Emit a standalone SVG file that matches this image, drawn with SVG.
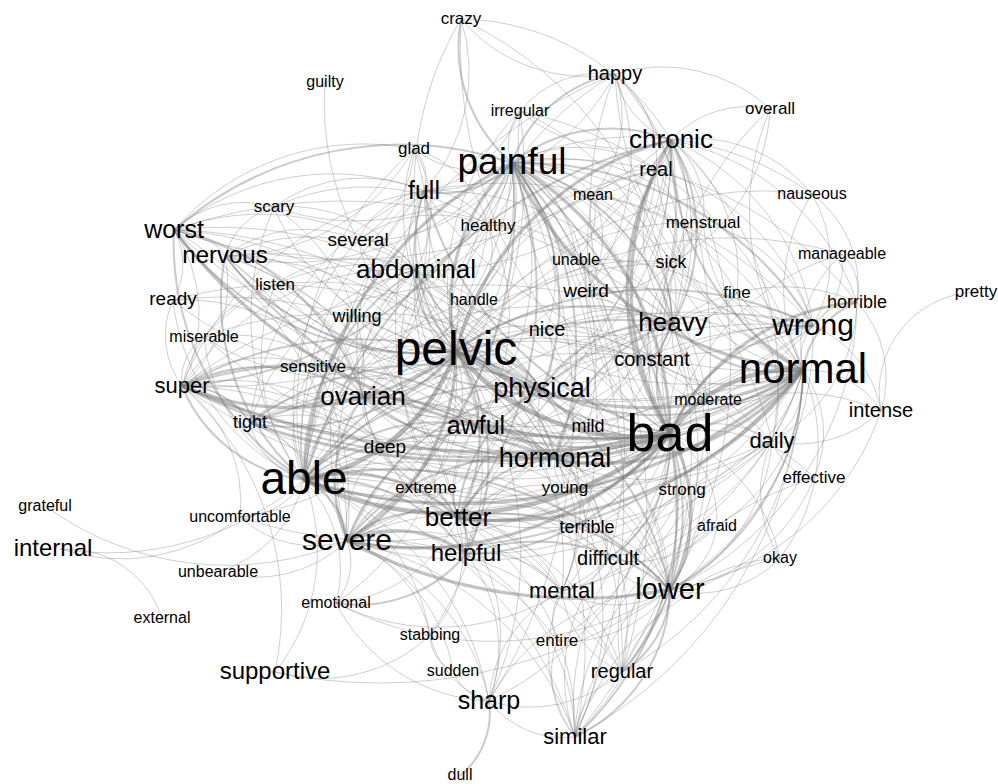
<svg xmlns="http://www.w3.org/2000/svg" width="998" height="784" viewBox="0 0 998 784">
<style>
#connectors path{fill:none;stroke:#7a7a7a;stroke-opacity:.36;stroke-width:1}
#connectors .w2 path{stroke-width:2;stroke-opacity:.4}
#connectors .w3 path{stroke-width:3.2;stroke-opacity:.45}
#connectors .w4 path{stroke-width:4.5;stroke-opacity:.5}
text{font-family:"Liberation Sans",Arial,Helvetica,sans-serif;fill:#000;text-anchor:middle}
</style>
<rect width="998" height="784" fill="#fff"/>
<g id="connectors">
<g class="w1">
<path d="M670 434A285 285 0 0 1 385 447"/><path d="M670 434A250 250 0 0 1 426 488"/><path d="M670 434A118 118 0 0 1 565 488"/><path d="M670 434A57 57 0 0 1 682 490"/><path d="M670 434A103 103 0 0 1 717 526"/><path d="M670 434A125 125 0 0 1 587 528"/><path d="M670 434A102 102 0 0 1 772 441"/><path d="M670 434A49 49 0 0 1 708 402"/><path d="M670 434A82 82 0 0 1 588 427"/><path d="M670 434A76 76 0 0 1 652 360"/><path d="M670 434A171 171 0 0 1 671 263"/><path d="M670 434A363 363 0 0 1 313 367"/><path d="M670 434A161 161 0 0 1 547 330"/><path d="M670 434A166 166 0 0 1 586 291"/><path d="M670 434A156 156 0 0 1 737 293"/><path d="M670 434A150 150 0 0 1 814 478"/><path d="M670 434A166 166 0 0 1 780 558"/><path d="M670 434A211 211 0 0 1 881 411"/><path d="M670 434A322 322 0 0 1 489 701"/><path d="M670 434A236 236 0 0 1 557 641"/><path d="M670 434A465 465 0 0 1 461 19"/><path d="M670 434A364 364 0 0 1 615 74"/><path d="M670 434A251 251 0 0 1 593 195"/><path d="M670 434A214 214 0 0 1 703 223"/><path d="M670 434A438 438 0 0 1 240 517"/><path d="M670 434A476 476 0 0 1 204 337"/><path d="M670 434A334 334 0 0 1 357 317"/><path d="M670 434A249 249 0 0 1 842 254"/><path d="M670 434A347 347 0 0 1 520 111"/><path d="M670 434A340 340 0 0 1 770 109"/><path d="M670 434A190 190 0 0 1 562 591"/>
<path d="M803 370A432 432 0 0 1 575 737"/><path d="M803 370A441 441 0 0 1 363 397"/><path d="M803 370A87 87 0 0 1 881 411"/><path d="M803 370A77 77 0 0 1 772 441"/><path d="M803 370A108 108 0 0 1 814 478"/><path d="M803 370A189 189 0 0 1 780 558"/><path d="M803 370A122 122 0 0 1 842 254"/><path d="M803 370A176 176 0 0 1 812 194"/><path d="M803 370A102 102 0 0 1 737 293"/><path d="M803 370A151 151 0 0 1 652 360"/><path d="M803 370A101 101 0 0 1 708 402"/><path d="M803 370A263 263 0 0 1 770 109"/><path d="M803 370A350 350 0 0 1 615 74"/><path d="M803 370A178 178 0 0 1 703 223"/><path d="M803 370A170 170 0 0 1 671 263"/><path d="M803 370A400 400 0 0 1 416 270"/><path d="M803 370A643 643 0 0 1 174 230"/><path d="M803 370A589 589 0 0 1 225 256"/><path d="M803 370A352 352 0 0 1 622 672"/><path d="M803 370A272 272 0 0 1 608 559"/><path d="M803 370A327 327 0 0 1 562 591"/><path d="M803 370A178 178 0 0 1 717 526"/><path d="M803 370A170 170 0 0 1 682 490"/><path d="M803 370A266 266 0 0 1 565 488"/><path d="M803 370A556 556 0 0 1 250 423"/><path d="M803 370A385 385 0 0 1 466 554"/><path d="M803 370A419 419 0 0 1 424 191"/><path d="M803 370A248 248 0 0 1 656 170"/><path d="M803 370A45 45 0 0 1 813 326"/><path d="M976 292A100 100 0 0 0 881 411"/>
<path d="M456 351A79 79 0 0 1 476 427"/><path d="M456 351A119 119 0 0 1 385 447"/><path d="M456 351A140 140 0 0 1 426 488"/><path d="M456 351A144 144 0 0 1 313 367"/><path d="M456 351A105 105 0 0 1 357 317"/><path d="M456 351A54 54 0 0 1 474 300"/><path d="M456 351A129 129 0 0 1 488 226"/><path d="M456 351A148 148 0 0 1 358 240"/><path d="M456 351A206 206 0 0 1 414 149"/><path d="M456 351A332 332 0 0 1 461 19"/><path d="M456 351A300 300 0 0 1 325 82"/><path d="M456 351A252 252 0 0 1 204 337"/><path d="M456 351A193 193 0 0 1 275 285"/><path d="M456 351A289 289 0 0 1 173 300"/><path d="M456 351A232 232 0 0 1 274 207"/><path d="M456 351A319 319 0 0 1 615 74"/><path d="M456 351A248 248 0 0 1 520 111"/><path d="M456 351A270 270 0 0 1 656 170"/><path d="M456 351A208 208 0 0 1 593 195"/><path d="M456 351A232 232 0 0 1 671 263"/><path d="M456 351A196 196 0 0 1 652 360"/><path d="M456 351A93 93 0 0 1 547 330"/><path d="M456 351A329 329 0 0 1 772 441"/><path d="M456 351A258 258 0 0 1 608 559"/><path d="M456 351A262 262 0 0 1 562 591"/><path d="M456 351A404 404 0 0 1 575 737"/><path d="M456 351A352 352 0 0 1 489 701"/><path d="M456 351A361 361 0 0 1 622 672"/><path d="M456 351A285 285 0 0 1 430 635"/><path d="M456 351A280 280 0 0 1 336 603"/><path d="M456 351A175 175 0 0 1 565 488"/><path d="M456 351A220 220 0 0 1 587 528"/><path d="M456 351A272 272 0 0 1 240 517"/><path d="M456 351A274 274 0 0 1 703 223"/><path d="M456 351A260 260 0 0 1 708 402"/><path d="M456 351A390 390 0 0 1 842 254"/><path d="M456 351A376 376 0 0 1 812 194"/>
<path d="M304 480A102 102 0 0 1 363 397"/><path d="M304 480A313 313 0 0 1 424 191"/><path d="M304 480A88 88 0 0 1 385 447"/><path d="M304 480A122 122 0 0 1 426 488"/><path d="M304 480A531 531 0 0 1 813 326"/><path d="M304 480A78 78 0 0 1 250 423"/><path d="M304 480A113 113 0 0 1 313 367"/><path d="M304 480A171 171 0 0 1 357 317"/><path d="M304 480A174 174 0 0 1 204 337"/><path d="M304 480A223 223 0 0 1 173 300"/><path d="M304 480A197 197 0 0 1 275 285"/><path d="M304 480A74 74 0 0 1 240 517"/><path d="M304 480A300 300 0 0 1 60 549"/><path d="M304 480A126 126 0 0 1 218 572"/><path d="M304 480A127 127 0 0 1 336 603"/><path d="M304 480A194 194 0 0 1 275 672"/><path d="M304 480A200 200 0 0 1 430 635"/><path d="M304 480A288 288 0 0 1 489 701"/><path d="M304 480A373 373 0 0 1 575 737"/><path d="M304 480A371 371 0 0 1 622 672"/><path d="M304 480A281 281 0 0 1 562 591"/><path d="M304 480A314 314 0 0 1 608 559"/><path d="M304 480A261 261 0 0 1 565 488"/><path d="M304 480A287 287 0 0 1 587 528"/><path d="M304 480A349 349 0 0 1 414 149"/><path d="M304 480A246 246 0 0 1 358 240"/><path d="M304 480A314 314 0 0 1 488 226"/><path d="M304 480A248 248 0 0 1 474 300"/><path d="M304 480A470 470 0 0 1 656 170"/><path d="M304 480A426 426 0 0 1 671 263"/><path d="M304 480A368 368 0 0 1 652 360"/><path d="M304 480A275 275 0 0 1 274 207"/><path d="M304 480A500 500 0 0 1 615 74"/>
<path d="M512 163A53 53 0 0 1 520 111"/><path d="M512 163A99 99 0 0 1 414 149"/><path d="M512 163A302 302 0 0 1 225 256"/><path d="M512 163A144 144 0 0 1 416 270"/><path d="M512 163A266 266 0 0 1 476 427"/><path d="M512 163A145 145 0 0 1 656 170"/><path d="M512 163A87 87 0 0 1 593 195"/><path d="M512 163A68 68 0 0 1 488 226"/><path d="M512 163A116 116 0 0 1 576 260"/><path d="M512 163A148 148 0 0 1 586 291"/><path d="M512 163A188 188 0 0 1 671 263"/><path d="M512 163A200 200 0 0 1 703 223"/><path d="M512 163A277 277 0 0 1 363 397"/><path d="M512 163A242 242 0 0 1 652 360"/><path d="M512 163A171 171 0 0 1 547 330"/><path d="M512 163A275 275 0 0 1 588 427"/><path d="M512 163A311 311 0 0 1 385 447"/><path d="M512 163A369 369 0 0 1 250 423"/><path d="M512 163A381 381 0 0 1 772 441"/><path d="M512 163A407 407 0 0 1 608 559"/><path d="M512 163A431 431 0 0 1 562 591"/><path d="M512 163A577 577 0 0 1 575 737"/><path d="M512 163A521 521 0 0 1 622 672"/><path d="M512 163A538 538 0 0 1 489 701"/><path d="M512 163A242 242 0 0 1 274 207"/><path d="M512 163A172 172 0 0 1 358 240"/><path d="M512 163A142 142 0 0 1 474 300"/><path d="M512 163A302 302 0 0 1 812 194"/><path d="M512 163A259 259 0 0 1 737 293"/><path d="M512 163A372 372 0 0 1 857 302"/><path d="M512 163A308 308 0 0 1 708 402"/>
<path d="M671 140A87 87 0 0 1 615 74"/><path d="M671 140A40 40 0 0 1 656 170"/><path d="M671 140A233 233 0 0 1 813 326"/><path d="M671 140A123 123 0 0 1 671 263"/><path d="M671 140A89 89 0 0 1 703 223"/><path d="M671 140A95 95 0 0 1 593 195"/><path d="M671 140A515 515 0 0 1 347 541"/><path d="M671 140A434 434 0 0 1 458 518"/><path d="M671 140A339 339 0 0 1 555 459"/><path d="M671 140A280 280 0 0 1 542 389"/><path d="M671 140A547 547 0 0 1 182 386"/><path d="M671 140A504 504 0 0 1 174 230"/><path d="M671 140A450 450 0 0 1 670 590"/><path d="M671 140A286 286 0 0 1 416 270"/><path d="M671 140A401 401 0 0 1 363 397"/><path d="M671 140A347 347 0 0 1 476 427"/><path d="M671 140A247 247 0 0 1 857 302"/><path d="M671 140A318 318 0 0 1 772 441"/><path d="M671 140A154 154 0 0 1 520 111"/><path d="M671 140A151 151 0 0 1 812 194"/><path d="M671 140A104 104 0 0 1 770 109"/><path d="M671 140A221 221 0 0 1 652 360"/><path d="M671 140A166 166 0 0 1 737 293"/><path d="M671 140A605 605 0 0 1 575 737"/>
<path d="M174 230A58 58 0 0 1 225 256"/><path d="M174 230A102 102 0 0 1 274 207"/><path d="M174 230A156 156 0 0 1 182 386"/><path d="M174 230A355 355 0 0 1 347 541"/><path d="M174 230A400 400 0 0 1 542 389"/><path d="M174 230A244 244 0 0 1 416 270"/><path d="M174 230A252 252 0 0 1 424 191"/><path d="M174 230A252 252 0 0 1 414 149"/><path d="M174 230A403 403 0 0 1 458 518"/><path d="M174 230A444 444 0 0 1 555 459"/><path d="M174 230A507 507 0 0 1 673 323"/><path d="M174 230A360 360 0 0 1 476 427"/><path d="M174 230A70 70 0 0 1 173 300"/>
<path d="M225 256A70 70 0 0 1 274 207"/><path d="M225 256A134 134 0 0 1 358 240"/><path d="M225 256A192 192 0 0 1 416 270"/><path d="M225 256A197 197 0 0 1 363 397"/><path d="M225 256A137 137 0 0 1 182 386"/><path d="M225 256A310 310 0 0 1 347 541"/><path d="M225 256A350 350 0 0 1 458 518"/><path d="M225 256A387 387 0 0 1 555 459"/><path d="M225 256A344 344 0 0 1 542 389"/><path d="M225 256A145 145 0 0 1 357 317"/>
<path d="M182 386A226 226 0 0 1 347 541"/><path d="M182 386A305 305 0 0 1 458 518"/><path d="M182 386A297 297 0 0 1 476 427"/><path d="M182 386A212 212 0 0 1 385 447"/><path d="M182 386A52 52 0 0 1 204 337"/><path d="M182 386A133 133 0 0 1 313 367"/><path d="M182 386A329 329 0 0 1 466 554"/><path d="M182 386A495 495 0 0 1 673 323"/><path d="M182 386A300 300 0 0 1 275 672"/><path d="M182 386A261 261 0 0 1 416 270"/><path d="M182 386A311 311 0 0 1 424 191"/><path d="M182 386A86 86 0 0 1 173 300"/><path d="M182 386A137 137 0 0 1 275 285"/><path d="M182 386A143 143 0 0 1 240 517"/>
<path d="M250 423A116 116 0 0 1 363 397"/><path d="M250 423A226 226 0 0 1 476 427"/><path d="M250 423A228 228 0 0 1 458 518"/><path d="M250 423A153 153 0 0 1 347 541"/><path d="M250 423A226 226 0 0 1 416 270"/><path d="M250 423A290 290 0 0 1 424 191"/><path d="M250 423A137 137 0 0 1 385 447"/><path d="M250 423A445 445 0 0 1 673 323"/>
<path d="M347 541A280 280 0 0 1 416 270"/><path d="M347 541A172 172 0 0 1 476 427"/><path d="M347 541A358 358 0 0 1 424 191"/><path d="M347 541A221 221 0 0 1 562 591"/><path d="M347 541A262 262 0 0 1 608 559"/><path d="M347 541A214 214 0 0 1 489 701"/><path d="M347 541A125 125 0 0 1 430 635"/><path d="M347 541A167 167 0 0 1 453 671"/><path d="M347 541A301 301 0 0 1 575 737"/><path d="M347 541A305 305 0 0 1 622 672"/><path d="M347 541A63 63 0 0 1 336 603"/><path d="M347 541A309 309 0 0 1 45 506"/><path d="M347 541A133 133 0 0 1 218 572"/><path d="M347 541A392 392 0 0 1 673 323"/><path d="M347 541A512 512 0 0 1 813 326"/><path d="M347 541A100 100 0 0 1 385 447"/><path d="M347 541A101 101 0 0 1 426 488"/><path d="M347 541A241 241 0 0 1 587 528"/><path d="M347 541A233 233 0 0 1 557 641"/><path d="M347 541A110 110 0 0 1 240 517"/>
<path d="M458 518A93 93 0 0 1 476 427"/><path d="M458 518A153 153 0 0 1 363 397"/><path d="M458 518A251 251 0 0 1 416 270"/><path d="M458 518A291 291 0 0 1 673 323"/><path d="M458 518A404 404 0 0 1 813 326"/><path d="M458 518A128 128 0 0 1 562 591"/><path d="M458 518A156 156 0 0 1 608 559"/><path d="M458 518A149 149 0 0 1 336 603"/><path d="M458 518A249 249 0 0 1 575 737"/><path d="M458 518A226 226 0 0 1 622 672"/><path d="M458 518A186 186 0 0 1 489 701"/><path d="M458 518A120 120 0 0 1 430 635"/><path d="M458 518A42 42 0 0 1 426 488"/><path d="M458 518A118 118 0 0 1 565 488"/><path d="M458 518A131 131 0 0 1 587 528"/><path d="M458 518A100 100 0 0 1 385 447"/><path d="M458 518A329 329 0 0 1 424 191"/>
<path d="M466 554A131 131 0 0 1 555 459"/><path d="M466 554A182 182 0 0 1 542 389"/><path d="M466 554A104 104 0 0 1 562 591"/><path d="M466 554A127 127 0 0 1 476 427"/><path d="M466 554A311 311 0 0 1 673 323"/><path d="M466 554A213 213 0 0 1 575 737"/><path d="M466 554A150 150 0 0 1 489 701"/>
<path d="M670 590A500 500 0 0 1 275 672"/><path d="M670 590A335 335 0 0 1 336 603"/>
<path d="M555 459A71 71 0 0 1 542 389"/><path d="M555 459A289 289 0 0 1 813 326"/><path d="M555 459A86 86 0 0 1 476 427"/><path d="M555 459A174 174 0 0 1 670 590"/><path d="M555 459A199 199 0 0 1 363 397"/><path d="M555 459A235 235 0 0 1 416 270"/><path d="M555 459A279 279 0 0 1 575 737"/><path d="M555 459A223 223 0 0 1 622 672"/><path d="M555 459A132 132 0 0 1 562 591"/><path d="M555 459A113 113 0 0 1 608 559"/>
<path d="M542 389A277 277 0 0 1 813 326"/><path d="M542 389A77 77 0 0 1 476 427"/><path d="M542 389A179 179 0 0 1 363 397"/><path d="M542 389A173 173 0 0 1 416 270"/><path d="M542 389A238 238 0 0 1 670 590"/><path d="M542 389A202 202 0 0 1 562 591"/><path d="M542 389A231 231 0 0 1 424 191"/><path d="M542 389A114 114 0 0 1 652 360"/>
<path d="M673 323A139 139 0 0 1 813 326"/><path d="M673 323A267 267 0 0 1 670 590"/><path d="M673 323A154 154 0 0 1 656 170"/><path d="M673 323A60 60 0 0 1 671 263"/><path d="M673 323A103 103 0 0 1 703 223"/><path d="M673 323A43 43 0 0 1 652 360"/><path d="M673 323A260 260 0 0 1 416 270"/><path d="M673 323A320 320 0 0 1 363 397"/><path d="M673 323A222 222 0 0 1 476 427"/><path d="M673 323A420 420 0 0 1 575 737"/><path d="M673 323A352 352 0 0 1 622 672"/><path d="M673 323A186 186 0 0 1 857 302"/>
<path d="M813 326A52 52 0 0 1 857 302"/><path d="M813 326A300 300 0 0 1 670 590"/><path d="M813 326A345 345 0 0 1 476 427"/><path d="M813 326A85 85 0 0 1 737 293"/><path d="M813 326A158 158 0 0 1 671 263"/><path d="M813 326A459 459 0 0 1 363 397"/><path d="M813 326A400 400 0 0 1 416 270"/><path d="M813 326A638 638 0 0 1 182 386"/><path d="M813 326A113 113 0 0 1 881 411"/>
<path d="M476 427A117 117 0 0 1 363 397"/><path d="M476 427A170 170 0 0 1 416 270"/><path d="M476 427A248 248 0 0 1 670 590"/><path d="M476 427A245 245 0 0 1 424 191"/>
<path d="M363 397A133 133 0 0 1 416 270"/><path d="M363 397A357 357 0 0 1 670 590"/><path d="M363 397A211 211 0 0 1 424 191"/><path d="M416 270A79 79 0 0 1 424 191"/><path d="M416 270A398 398 0 0 1 670 590"/>
<path d="M670 590A108 108 0 0 1 562 591"/><path d="M670 590A70 70 0 0 1 608 559"/><path d="M670 590A127 127 0 0 1 557 641"/>
<path d="M575 737A79 79 0 0 1 622 672"/><path d="M575 737A95 95 0 0 1 489 701"/><path d="M575 737A147 147 0 0 1 562 591"/><path d="M575 737A98 98 0 0 1 557 641"/><path d="M575 737A180 180 0 0 1 608 559"/><path d="M575 737A269 269 0 0 1 682 490"/><path d="M575 737A240 240 0 0 1 717 526"/><path d="M575 737A272 272 0 0 1 780 558"/><path d="M575 737A352 352 0 0 1 814 478"/>
<path d="M622 672A100 100 0 0 1 562 591"/><path d="M622 672A138 138 0 0 1 489 701"/><path d="M622 672A193 193 0 0 1 682 490"/><path d="M622 672A180 180 0 0 1 780 558"/><path d="M622 672A275 275 0 0 1 772 441"/>
<path d="M489 701A47 47 0 0 1 453 671"/><path d="M489 701A90 90 0 0 1 430 635"/><path d="M489 701A130 130 0 0 1 562 591"/><path d="M489 701A210 210 0 0 1 670 590"/><path d="M489 701A180 180 0 0 1 336 603"/>
<path d="M453 671A40 40 0 0 1 430 635"/><path d="M430 635A159 159 0 0 1 275 672"/><path d="M60 549A100 100 0 0 1 162 618"/><path d="M60 549A190 190 0 0 0 240 517"/>
<path d="M414 149A42 42 0 0 1 424 191"/><path d="M414 149A121 121 0 0 1 416 270"/><path d="M414 149A108 108 0 0 1 358 240"/><path d="M414 149A105 105 0 0 1 488 226"/><path d="M414 149A250 250 0 0 1 363 397"/><path d="M414 149A217 217 0 0 1 225 256"/>
<path d="M274 207A150 150 0 0 1 424 191"/><path d="M274 207A160 160 0 0 1 416 270"/><path d="M274 207A215 215 0 0 1 488 226"/><path d="M274 207A200 200 0 0 1 363 397"/>
<path d="M358 240A86 86 0 0 1 424 191"/><path d="M358 240A66 66 0 0 1 416 270"/><path d="M358 240A131 131 0 0 1 488 226"/>
<path d="M424 191A72 72 0 0 1 488 226"/><path d="M424 191A215 215 0 0 1 363 397"/><path d="M424 191A276 276 0 0 1 673 323"/><path d="M424 191A406 406 0 0 1 813 326"/>
<path d="M488 226A75 75 0 0 1 474 300"/><path d="M488 226A95 95 0 0 1 576 260"/><path d="M488 226A215 215 0 0 1 363 397"/><path d="M488 226A200 200 0 0 1 476 427"/>
<path d="M520 111A104 104 0 0 1 615 74"/><path d="M520 111A125 125 0 0 1 424 191"/><path d="M520 111A254 254 0 0 1 673 323"/><path d="M520 111A377 377 0 0 1 803 370"/><path d="M520 111A467 467 0 0 1 347 541"/>
<path d="M615 74A106 106 0 0 1 656 170"/><path d="M615 74A257 257 0 0 1 673 323"/><path d="M615 74A198 198 0 0 1 671 263"/><path d="M615 74A164 164 0 0 1 461 19"/><path d="M615 74A159 159 0 0 1 770 109"/><path d="M615 74A220 220 0 0 1 424 191"/><path d="M615 74A123 123 0 0 1 593 195"/><path d="M615 74A220 220 0 0 1 586 291"/>
<path d="M461 19A178 178 0 0 1 424 191"/><path d="M461 19A250 250 0 0 1 671 140"/><path d="M461 19A370 370 0 0 1 673 323"/><path d="M770 109A183 183 0 0 1 671 263"/>
<path d="M593 195A70 70 0 0 1 656 170"/><path d="M593 195A150 150 0 0 1 673 323"/><path d="M593 195A68 68 0 0 1 576 260"/><path d="M593 195A96 96 0 0 1 586 291"/><path d="M593 195A277 277 0 0 1 803 370"/>
<path d="M703 223A50 50 0 0 1 671 263"/><path d="M703 223A148 148 0 0 1 813 326"/><path d="M656 170A95 95 0 0 1 671 263"/><path d="M656 170A230 230 0 0 1 813 326"/><path d="M656 170A150 150 0 0 1 586 291"/>
<path d="M576 260A31 31 0 0 1 586 291"/><path d="M576 260A116 116 0 0 1 673 323"/><path d="M576 260A250 250 0 0 1 803 370"/><path d="M671 263A90 90 0 0 1 586 291"/><path d="M671 263A100 100 0 0 1 652 360"/>
<path d="M586 291A97 97 0 0 1 673 323"/><path d="M586 291A230 230 0 0 1 803 370"/><path d="M586 291A95 95 0 0 1 652 360"/>
<path d="M547 330A260 260 0 0 1 803 370"/><path d="M547 330A126 126 0 0 1 673 323"/><path d="M547 330A60 60 0 0 1 542 389"/><path d="M547 330A110 110 0 0 1 652 360"/>
<path d="M737 293A70 70 0 0 1 673 323"/><path d="M737 293A150 150 0 0 1 772 441"/><path d="M842 254A50 50 0 0 1 857 302"/><path d="M842 254A80 80 0 0 1 813 326"/><path d="M812 194A113 113 0 0 1 857 302"/><path d="M812 194A132 132 0 0 1 813 326"/>
<path d="M857 302A112 112 0 0 1 881 411"/><path d="M857 302A160 160 0 0 1 772 441"/><path d="M857 302A320 320 0 0 1 670 590"/><path d="M881 411A120 120 0 0 1 772 441"/><path d="M881 411A270 270 0 0 1 670 590"/>
<path d="M814 478A57 57 0 0 1 772 441"/><path d="M814 478A180 180 0 0 1 670 590"/><path d="M780 558A120 120 0 0 1 772 441"/><path d="M780 558A115 115 0 0 1 670 590"/><path d="M717 526A85 85 0 0 1 670 590"/><path d="M717 526A115 115 0 0 1 608 559"/><path d="M682 490A100 100 0 0 1 670 590"/><path d="M682 490A160 160 0 0 1 562 591"/>
<path d="M772 441A180 180 0 0 1 670 590"/><path d="M772 441A160 160 0 0 1 673 323"/><path d="M772 441A220 220 0 0 1 555 459"/><path d="M772 441A590 590 0 0 1 182 386"/><path d="M772 441A350 350 0 0 1 458 518"/><path d="M772 441A430 430 0 0 1 347 541"/>
<path d="M708 402A80 80 0 0 1 673 323"/><path d="M708 402A70 70 0 0 1 652 360"/><path d="M708 402A410 410 0 0 1 304 480"/><path d="M652 360A140 140 0 0 1 555 459"/>
<path d="M588 427A170 170 0 0 1 456 351"/><path d="M588 427A290 290 0 0 1 304 480"/><path d="M588 427A70 70 0 0 1 542 389"/><path d="M565 488A30 30 0 0 1 555 459"/>
<path d="M587 528A70 70 0 0 1 562 591"/><path d="M587 528A110 110 0 0 1 670 590"/><path d="M608 559A60 60 0 0 1 562 591"/><path d="M557 641A50 50 0 0 1 562 591"/><path d="M562 591A228 228 0 0 1 336 603"/>
<path d="M385 447A55 55 0 0 1 363 397"/><path d="M385 447A95 95 0 0 1 476 427"/><path d="M385 447A170 170 0 0 1 542 389"/><path d="M385 447A170 170 0 0 1 555 459"/><path d="M426 488A140 140 0 0 1 555 459"/><path d="M426 488A110 110 0 0 1 363 397"/>
<path d="M313 367A60 60 0 0 1 363 397"/><path d="M313 367A230 230 0 0 1 542 389"/><path d="M313 367A135 135 0 0 1 416 270"/><path d="M357 317A80 80 0 0 1 416 270"/><path d="M357 317A190 190 0 0 1 542 389"/>
<path d="M275 285A143 143 0 0 1 416 270"/><path d="M275 285A145 145 0 0 1 363 397"/><path d="M275 285A290 290 0 0 1 542 389"/><path d="M204 337A170 170 0 0 1 363 397"/><path d="M204 337A345 345 0 0 1 542 389"/><path d="M204 337A220 220 0 0 1 416 270"/>
<path d="M173 300A385 385 0 0 1 542 389"/><path d="M173 300A420 420 0 0 1 555 459"/><path d="M173 300A215 215 0 0 1 363 397"/>
</g>
<g class="w2">
<path d="M670 434A118 118 0 0 1 555 459"/><path d="M670 434A136 136 0 0 1 542 389"/><path d="M670 434A111 111 0 0 1 673 323"/><path d="M670 434A178 178 0 0 1 813 326"/><path d="M670 434A318 318 0 0 1 575 737"/><path d="M670 434A243 243 0 0 1 622 672"/><path d="M670 434A140 140 0 0 1 608 559"/><path d="M670 434A309 309 0 0 1 363 397"/><path d="M670 434A302 302 0 0 1 416 270"/><path d="M670 434A194 194 0 0 1 476 427"/><path d="M670 434A238 238 0 0 1 466 554"/><path d="M670 434A346 346 0 0 1 424 191"/><path d="M670 434A480 480 0 0 1 225 256"/>
<path d="M803 370A265 265 0 0 1 671 140"/><path d="M803 370A650 650 0 0 1 182 386"/><path d="M803 370A262 262 0 0 1 542 389"/><path d="M803 370A138 138 0 0 1 673 323"/><path d="M803 370A87 87 0 0 1 857 302"/><path d="M803 370A257 257 0 0 1 670 590"/><path d="M803 370A487 487 0 0 1 347 541"/><path d="M803 370A332 332 0 0 1 476 427"/>
<path d="M456 351A306 306 0 0 1 174 230"/><path d="M456 351A250 250 0 0 1 225 256"/><path d="M456 351A218 218 0 0 1 250 423"/><path d="M456 351A167 167 0 0 1 458 518"/><path d="M456 351A94 94 0 0 1 542 389"/><path d="M456 351A146 146 0 0 1 555 459"/><path d="M456 351A104 104 0 0 1 363 397"/><path d="M456 351A90 90 0 0 1 416 270"/><path d="M456 351A163 163 0 0 1 424 191"/><path d="M456 351A219 219 0 0 1 673 323"/><path d="M456 351A357 357 0 0 1 813 326"/><path d="M456 351A321 321 0 0 1 670 590"/><path d="M456 351A203 203 0 0 1 466 554"/>
<path d="M304 480A500 500 0 0 1 671 140"/><path d="M304 480A154 154 0 0 1 182 386"/><path d="M304 480A281 281 0 0 1 174 230"/><path d="M304 480A238 238 0 0 1 225 256"/><path d="M304 480A73 73 0 0 1 347 541"/><path d="M304 480A252 252 0 0 1 555 459"/><path d="M304 480A255 255 0 0 1 542 389"/><path d="M304 480A238 238 0 0 1 416 270"/><path d="M304 480A180 180 0 0 1 476 427"/><path d="M304 480A177 177 0 0 1 466 554"/><path d="M304 480A382 382 0 0 1 670 590"/><path d="M304 480A401 401 0 0 1 673 323"/>
<path d="M512 163A161 161 0 0 1 671 140"/><path d="M512 163A136 136 0 0 1 615 74"/><path d="M512 163A153 153 0 0 1 461 19"/><path d="M512 163A92 92 0 0 1 424 191"/><path d="M512 163A398 398 0 0 1 182 386"/><path d="M512 163A412 412 0 0 1 347 541"/><path d="M512 163A359 359 0 0 1 458 518"/><path d="M512 163A228 228 0 0 1 542 389"/><path d="M512 163A299 299 0 0 1 555 459"/><path d="M512 163A227 227 0 0 1 673 323"/><path d="M512 163A341 341 0 0 1 813 326"/><path d="M512 163A455 455 0 0 1 670 590"/><path d="M174 230A344 344 0 0 1 512 163"/>
<path d="M671 140A183 183 0 0 1 673 323"/><path d="M174 230A252 252 0 0 1 363 397"/><path d="M182 386A77 77 0 0 1 250 423"/><path d="M182 386A181 181 0 0 1 363 397"/><path d="M182 386A360 360 0 0 1 542 389"/><path d="M182 386A380 380 0 0 1 555 459"/><path d="M250 423A294 294 0 0 1 542 389"/><path d="M250 423A307 307 0 0 1 555 459"/>
<path d="M347 541A112 112 0 0 1 458 518"/><path d="M347 541A224 224 0 0 1 555 459"/><path d="M347 541A247 247 0 0 1 542 389"/><path d="M347 541A145 145 0 0 1 363 397"/><path d="M458 518A37 37 0 0 1 466 554"/><path d="M458 518A114 114 0 0 1 555 459"/><path d="M458 518A155 155 0 0 1 542 389"/><path d="M458 518A225 225 0 0 1 670 590"/><path d="M466 554A208 208 0 0 1 670 590"/><path d="M466 554A139 139 0 0 1 336 603"/><path d="M555 459A180 180 0 0 1 673 323"/><path d="M542 389A147 147 0 0 1 673 323"/><path d="M670 590A166 166 0 0 1 575 737"/><path d="M670 590A98 98 0 0 1 622 672"/><path d="M489 701A82 82 0 0 1 460 776"/>
</g>
<g class="w3">
<path d="M512 163A314 314 0 0 1 670 434"/><path d="M670 434A294 294 0 0 1 671 140"/><path d="M670 434A800 800 0 0 1 182 386"/><path d="M670 434A535 535 0 0 1 174 230"/><path d="M670 434A700 700 0 0 1 250 423"/><path d="M670 434A340 340 0 0 1 347 541"/><path d="M670 434A229 229 0 0 1 458 518"/><path d="M670 434A229 229 0 0 1 857 302"/><path d="M670 434A156 156 0 0 1 670 590"/><path d="M670 434A264 264 0 0 1 656 170"/>
<path d="M803 370A347 347 0 0 1 456 351"/><path d="M803 370A511 511 0 0 1 304 480"/><path d="M803 370A357 357 0 0 1 512 163"/><path d="M803 370A376 376 0 0 1 458 518"/><path d="M803 370A263 263 0 0 1 555 459"/>
<path d="M456 351A196 196 0 0 1 512 163"/><path d="M456 351A301 301 0 0 1 671 140"/><path d="M456 351A276 276 0 0 1 182 386"/><path d="M456 351A219 219 0 0 1 347 541"/><path d="M304 480A379 379 0 0 1 512 163"/><path d="M304 480A158 158 0 0 1 458 518"/><path d="M347 541A119 119 0 0 1 466 554"/><path d="M347 541A500 500 0 0 0 670 590"/>
</g>
<g class="w4">
<path d="M670 434A230 230 0 0 1 456 351"/><path d="M670 434A340 340 0 0 1 304 480"/><path d="M670 434A148 148 0 0 1 803 370"/><path d="M456 351A200 200 0 0 1 304 480"/>
</g>
</g>
<g id="n-crazy"><text x="461" y="24" font-size="17">crazy</text></g>
<g id="n-guilty"><text x="325" y="87" font-size="16">guilty</text></g>
<g id="n-happy"><text x="615" y="80" font-size="20">happy</text></g>
<g id="n-irregular"><text x="520" y="116" font-size="16">irregular</text></g>
<g id="n-overall"><text x="770" y="114" font-size="17">overall</text></g>
<g id="n-glad"><text x="414" y="154" font-size="17">glad</text></g>
<g id="n-painful"><text x="512" y="174" font-size="37">painful</text></g>
<g id="n-chronic"><text x="671" y="148" font-size="26">chronic</text></g>
<g id="n-real"><text x="656" y="176" font-size="20">real</text></g>
<g id="n-full"><text x="424" y="199" font-size="25">full</text></g>
<g id="n-mean"><text x="593" y="200" font-size="16">mean</text></g>
<g id="n-nauseous"><text x="812" y="199" font-size="16">nauseous</text></g>
<g id="n-scary"><text x="274" y="212" font-size="17">scary</text></g>
<g id="n-healthy"><text x="488" y="231" font-size="17">healthy</text></g>
<g id="n-menstrual"><text x="703" y="228" font-size="17">menstrual</text></g>
<g id="n-worst"><text x="174" y="238" font-size="25">worst</text></g>
<g id="n-several"><text x="358" y="246" font-size="19">several</text></g>
<g id="n-nervous"><text x="225" y="263" font-size="24">nervous</text></g>
<g id="n-unable"><text x="576" y="265" font-size="16">unable</text></g>
<g id="n-sick"><text x="671" y="268" font-size="18">sick</text></g>
<g id="n-manageable"><text x="842" y="259" font-size="16">manageable</text></g>
<g id="n-abdominal"><text x="416" y="278" font-size="26">abdominal</text></g>
<g id="n-listen"><text x="275" y="290" font-size="17">listen</text></g>
<g id="n-ready"><text x="173" y="305" font-size="19">ready</text></g>
<g id="n-handle"><text x="474" y="305" font-size="16">handle</text></g>
<g id="n-weird"><text x="586" y="297" font-size="19">weird</text></g>
<g id="n-fine"><text x="737" y="298" font-size="17">fine</text></g>
<g id="n-horrible"><text x="857" y="308" font-size="18">horrible</text></g>
<g id="n-pretty"><text x="976" y="297" font-size="17">pretty</text></g>
<g id="n-willing"><text x="357" y="322" font-size="18">willing</text></g>
<g id="n-heavy"><text x="673" y="331" font-size="26">heavy</text></g>
<g id="n-wrong"><text x="813" y="335" font-size="30">wrong</text></g>
<g id="n-nice"><text x="547" y="336" font-size="20">nice</text></g>
<g id="n-miserable"><text x="204" y="342" font-size="16">miserable</text></g>
<g id="n-pelvic"><text x="456" y="365" font-size="48">pelvic</text></g>
<g id="n-constant"><text x="652" y="366" font-size="20">constant</text></g>
<g id="n-normal"><text x="803" y="383" font-size="42">normal</text></g>
<g id="n-sensitive"><text x="313" y="372" font-size="17">sensitive</text></g>
<g id="n-super"><text x="182" y="393" font-size="22">super</text></g>
<g id="n-physical"><text x="542" y="397" font-size="27">physical</text></g>
<g id="n-ovarian"><text x="363" y="405" font-size="26">ovarian</text></g>
<g id="n-moderate"><text x="708" y="405" font-size="16">moderate</text></g>
<g id="n-intense"><text x="881" y="417" font-size="20">intense</text></g>
<g id="n-tight"><text x="250" y="428" font-size="18">tight</text></g>
<g id="n-awful"><text x="476" y="434" font-size="25">awful</text></g>
<g id="n-mild"><text x="588" y="432" font-size="18">mild</text></g>
<g id="n-bad"><text x="670" y="451" font-size="52">bad</text></g>
<g id="n-deep"><text x="385" y="453" font-size="19">deep</text></g>
<g id="n-daily"><text x="772" y="448" font-size="22">daily</text></g>
<g id="n-hormonal"><text x="555" y="467" font-size="27">hormonal</text></g>
<g id="n-able"><text x="304" y="494" font-size="46">able</text></g>
<g id="n-effective"><text x="814" y="483" font-size="17">effective</text></g>
<g id="n-extreme"><text x="426" y="493" font-size="17">extreme</text></g>
<g id="n-young"><text x="565" y="493" font-size="17">young</text></g>
<g id="n-strong"><text x="682" y="495" font-size="17">strong</text></g>
<g id="n-grateful"><text x="45" y="511" font-size="16">grateful</text></g>
<g id="n-uncomfortable"><text x="240" y="522" font-size="16">uncomfortable</text></g>
<g id="n-better"><text x="458" y="526" font-size="26">better</text></g>
<g id="n-terrible"><text x="587" y="533" font-size="18">terrible</text></g>
<g id="n-afraid"><text x="717" y="531" font-size="16">afraid</text></g>
<g id="n-internal"><text x="53" y="556" font-size="24">internal</text></g>
<g id="n-severe"><text x="347" y="550" font-size="30">severe</text></g>
<g id="n-helpful"><text x="466" y="561" font-size="24">helpful</text></g>
<g id="n-difficult"><text x="608" y="565" font-size="20">difficult</text></g>
<g id="n-okay"><text x="780" y="563" font-size="16">okay</text></g>
<g id="n-unbearable"><text x="218" y="577" font-size="16">unbearable</text></g>
<g id="n-mental"><text x="562" y="598" font-size="22">mental</text></g>
<g id="n-lower"><text x="670" y="599" font-size="29">lower</text></g>
<g id="n-emotional"><text x="336" y="608" font-size="16">emotional</text></g>
<g id="n-external"><text x="162" y="623" font-size="16">external</text></g>
<g id="n-stabbing"><text x="430" y="640" font-size="16">stabbing</text></g>
<g id="n-entire"><text x="557" y="646" font-size="17">entire</text></g>
<g id="n-supportive"><text x="275" y="679" font-size="24">supportive</text></g>
<g id="n-sudden"><text x="453" y="676" font-size="16">sudden</text></g>
<g id="n-regular"><text x="622" y="678" font-size="20">regular</text></g>
<g id="n-sharp"><text x="489" y="709" font-size="25">sharp</text></g>
<g id="n-similar"><text x="575" y="744" font-size="22">similar</text></g>
<g id="n-dull"><text x="460" y="780" font-size="16">dull</text></g>
</svg>
